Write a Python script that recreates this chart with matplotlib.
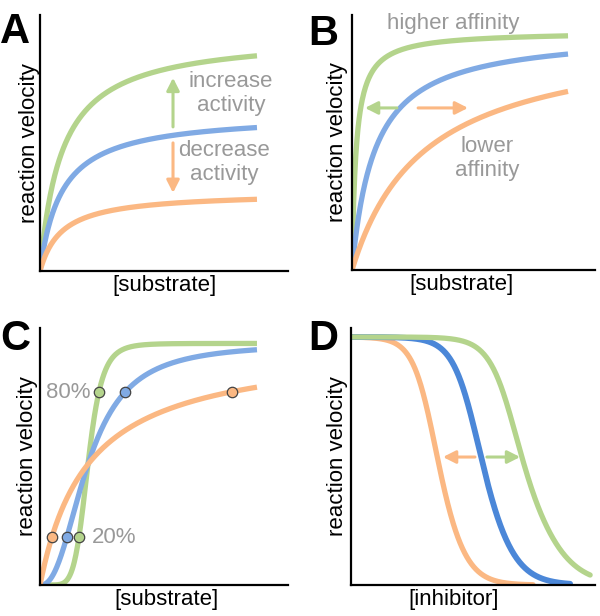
import matplotlib
matplotlib.use("Agg")
import matplotlib.pyplot as plt
import numpy as np

plt.rcParams['font.family'] = ['Liberation Sans', 'DejaVu Sans']

green = "#b4d48c"
blue = "#80aae4"
orange = "#fbb883"
dblue = "#4b87d8"
grey = "#999999"

# curve parameters (order: green, blue, orange)
# A: same Km, different Vmax
a_vmax = [0.924, 0.616, 0.308]
a_km = 1.0
# B: same Vmax, different Km
b_vmax = 0.935
b_km = [0.19, 1.05, 3.36]
# C: Hill curves sharing K0.5
c_vmax = 0.94
c_khalf = 2.21
c_hill = [6.7, 2.4, 1.0]
c_marks = [0.2, 0.8]
# D: inhibition curves (orange, blue, green), steeper shoulder than tail
d_top = 0.965
d_mid = [0.357, 0.537, 0.705]
d_slope_up = [0.048, 0.055, 0.06]
d_slope_low = [0.058, 0.068, 0.087]
d_end = [0.746, 0.898, 0.98]

s_end = 10.0

fig = plt.figure(figsize=(6, 6.16), dpi=100)
axA = fig.add_axes([0.0667, 0.560, 0.4133, 0.416])
axB = fig.add_axes([0.5867, 0.5617, 0.405, 0.4143])
axC = fig.add_axes([0.0667, 0.0503, 0.4133, 0.4172])
axD = fig.add_axes([0.585, 0.0503, 0.4067, 0.4172])

lw = 3.8


def style(ax, xlabel, xl, yl):
    for s in ["top", "right"]:
        ax.spines[s].set_visible(False)
    for s in ["left", "bottom"]:
        ax.spines[s].set_linewidth(1.6)
    ax.set_xticks([])
    ax.set_yticks([])
    ax.set_xlabel(xlabel, fontsize=16)
    ax.set_ylabel("reaction velocity", fontsize=16)
    ax.xaxis.set_label_coords(xl, -0.055)
    ax.yaxis.set_label_coords(yl, 0.5)
    ax.xaxis.label.set_va("center")
    ax.yaxis.label.set_va("center")


def arrow(ax, x0, y0, x1, y1, c):
    ax.annotate("", xy=(x1, y1), xytext=(x0, y0),
                arrowprops=dict(arrowstyle="-|>,head_length=0.75,head_width=0.38",
                                color=c, lw=2.2, shrinkA=0, shrinkB=0))


S = np.linspace(0, s_end, 400)

# ---- A
for v, c in zip(a_vmax, [green, blue, orange]):
    axA.plot(S, v * S / (a_km + S), color=c, lw=lw, solid_capstyle="butt")
axA.set_xlim(0, 11.43)
axA.set_ylim(0, 1)
arrow(axA, 6.13, 0.5625, 6.13, 0.754, green)
arrow(axA, 6.13, 0.50, 6.13, 0.305, orange)
axA.text(8.8, 0.693, "increase\nactivity", ha="center", va="center", fontsize=16, color=grey)
axA.text(8.48, 0.424, "decrease\nactivity", ha="center", va="center", fontsize=16, color=grey)
style(axA, "[substrate]", 0.5, -0.044)

# ---- B
for k, c in zip(b_km, [green, blue, orange]):
    axB.plot(S, b_vmax * S / (k + S), color=c, lw=lw, solid_capstyle="butt")
axB.set_xlim(0, 11.25)
axB.set_ylim(0, 1)
arrow(axB, 2.08, 0.635, 0.60, 0.635, green)
arrow(axB, 3.06, 0.635, 5.37, 0.635, orange)
axB.text(4.68, 0.965, "higher affinity", ha="center", va="center", fontsize=16, color=grey)
axB.text(6.25, 0.437, "lower\naffinity", ha="center", va="center", fontsize=16, color=grey)
style(axB, "[substrate]", 0.45, -0.058)

# ---- C
for n, c in zip(c_hill, [green, blue, orange]):
    axC.plot(S, c_vmax * S**n / (c_khalf**n + S**n), color=c, lw=lw, solid_capstyle="butt")
for n, c in zip(c_hill, [green, blue, orange]):
    for f in c_marks:
        sx = c_khalf * (f / (1 - f)) ** (1 / n)
        axC.plot(sx, f * c_vmax, "o", ms=7.5, mfc=c, mec="#444444", mew=0.9, zorder=5)
axC.set_xlim(0, 11.43)
axC.set_ylim(0, 1)
axC.text(1.29, 0.751, "80%", ha="center", va="center", fontsize=16, color=grey)
axC.text(3.41, 0.183, "20%", ha="center", va="center", fontsize=16, color=grey)
style(axC, "[substrate]", 0.51, -0.05)

# ---- D
for m, su, sl, e, c in zip(d_mid, d_slope_up, d_slope_low, d_end, [orange, dblue, green]):
    x = np.linspace(0, e, 400)
    # slope blends smoothly from shoulder value to tail value
    s = su + (sl - su) * 0.5 * (1 + np.tanh((x - m) / (2 * su)))
    axD.plot(x, d_top / (1 + np.exp((x - m) / s)), color=c, lw=lw + (0.4 if c == dblue else 0),
             solid_capstyle="round")
axD.set_xlim(0, 1)
axD.set_ylim(0, 1)
arrow(axD, 0.508, 0.498, 0.377, 0.498, orange)
arrow(axD, 0.557, 0.498, 0.693, 0.498, green)
style(axD, "[inhibitor]", 0.42, -0.057)

for lab, x, y in [("A", 0.0, 0.98), ("B", 0.514, 0.978), ("C", 0.0, 0.482), ("D", 0.514, 0.482)]:
    fig.text(x, y, lab, fontsize=30, fontweight="bold", ha="left", va="top")

fig.savefig("out.png", dpi=100)
